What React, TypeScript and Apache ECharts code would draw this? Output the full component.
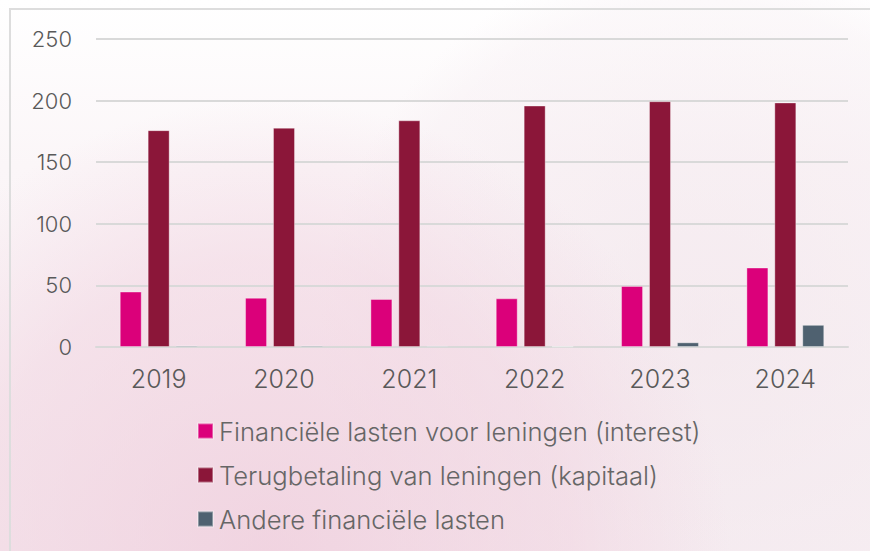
import React, { useEffect, useRef } from "react";
import * as echarts from "echarts";

const years = ["2019", "2020", "2021", "2022", "2023", "2024"];
const interest = [45, 40, 39, 39.5, 49.5, 64.5];
const kapitaal = [176, 178, 184, 196, 199.5, 198.5];
const andere = [1.2, 1.2, 1, 0.5, 3.8, 18];
const seriesNames = [
  "Financiële lasten voor leningen (interest)",
  "Terugbetaling van leningen (kapitaal)",
  "Andere financiële lasten",
];
const colors = ["#DB007A", "#8B1639", "#4F6170"];

export default function App() {
  const ref = useRef<HTMLDivElement>(null);
  useEffect(() => {
    const chart = echarts.init(ref.current!, undefined, { renderer: "svg" });
    const font = "Inter, 'Open Sans', sans-serif";
    const data = [interest, kapitaal, andere];
    chart.setOption({
      animation: false,
      backgroundColor: "transparent",
      textStyle: { fontFamily: font },
      graphic: [
        {
          type: "rect",
          z: -100,
          silent: true,
          shape: { x: 10, y: 9, width: 900, height: 600 },
          style: { fill: "transparent", stroke: "#dddddd", lineWidth: 2 },
        },
      ],
      grid: { left: 96, right: 22, top: 39, bottom: 204 },
      xAxis: {
        type: "category",
        data: years,
        axisLine: { show: true, lineStyle: { color: "#d9d9d9", width: 2 } },
        axisTick: { show: false },
        axisLabel: { color: "#595959", fontSize: 25, fontWeight: 300, margin: 19, fontFamily: font },
      },
      yAxis: {
        type: "value",
        min: 0,
        max: 250,
        interval: 50,
        axisLine: { show: false },
        axisTick: { show: false },
        axisLabel: { color: "#595959", fontSize: 22, fontWeight: 300, margin: 24, fontFamily: font },
        splitLine: { lineStyle: { color: "#d9d9d9", width: 2 } },
      },
      legend: {
        orient: "vertical",
        left: 197,
        top: 418,
        padding: 0,
        itemWidth: 15,
        itemHeight: 15,
        itemGap: 18,
        icon: "rect",
        textStyle: { color: "#666666", fontSize: 25.6, fontWeight: 300, fontFamily: font, padding: [0, 0, 0, 1] },
        data: seriesNames,
      },
      series: seriesNames.map((name, i) => ({
        name,
        type: "bar",
        data: data[i],
        barWidth: 22,
        barGap: "27%",
        itemStyle: { color: colors[i], borderColor: "rgba(255,255,255,0.35)", borderWidth: 1 },
      })),
    });
    return () => chart.dispose();
  }, []);
  return (
    <div
      style={{
        position: "fixed",
        left: 0,
        top: 0,
        width: 870,
        height: 551,
        overflow: "hidden",
        background:
          "radial-gradient(circle at 270px 560px, rgba(236,190,210,0.55) 0px, rgba(240,205,220,0.45) 300px, rgba(245,225,234,0.0) 460px), radial-gradient(circle at 700px 330px, rgba(240,225,232,0.5) 0px, rgba(245,235,240,0.3) 330px, rgba(255,255,255,0) 380px), linear-gradient(180deg, #ffffff 0%, #fbf6f8 30%, #f6eef2 100%)",
      }}
    >
      <div ref={ref} style={{ width: 870, height: 551 }} />
    </div>
  );
}
